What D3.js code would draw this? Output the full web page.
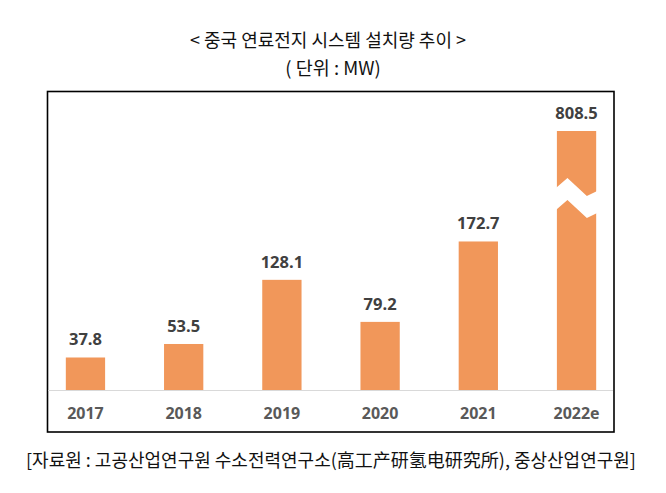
<!DOCTYPE html>
<html>
<head>
<meta charset="utf-8">
<script src="https://cdn.jsdelivr.net/npm/d3@7"></script>
<style>
  body { margin: 0; background: #fff; }
</style>
</head>
<body>
<div id="chart"></div>
<script>
// chart data
const years = ["2017", "2018", "2019", "2020", "2021", "2022e"];
const values = [37.8, 53.5, 128.1, 79.2, 172.7, 808.5];
const brokenYears = ["2022e"];
const breakValue = 222; // where the axis break sits

const width = 666;
const height = 493;

const svg = d3.select("#chart")
  .append("svg")
  .attr("width", width)
  .attr("height", height);

// Titles
svg.append("text")
  .attr("x", 328)
  .attr("y", 47)
  .attr("text-anchor", "middle")
  .style("font-family", "'Noto Sans CJK KR', sans-serif")
  .style("font-size", "18px")
  .attr("fill", "#111")
  .text("< 중국 연료전지 시스템 설치량 추이 >");

svg.append("text")
  .attr("x", 333)
  .attr("y", 75)
  .attr("text-anchor", "middle")
  .style("font-family", "'Noto Sans CJK KR', sans-serif")
  .style("font-size", "18.5px")
  .attr("fill", "#111")
  .text("( 단위 : MW)");

// Frame
svg.append("rect")
  .attr("x", 47.5)
  .attr("y", 91.5)
  .attr("width", 566.5)
  .attr("height", 340.5)
  .attr("fill", "none")
  .attr("stroke", "#000")
  .attr("stroke-width", 1.6);

// Scales
const x = d3.scaleBand()
  .domain(years)
  .range([56, 606])
  .paddingInner(0.6)
  .paddingOuter(0.1);

// piecewise scale: linear up to the break, compressed above it
const y = d3.scaleLinear()
  .domain([0, breakValue, 808.5])
  .range([390, 390 - breakValue * 0.86, 131]);

const g = svg.append("g");

// Bars
g.selectAll(".bar")
  .data(values)
  .enter()
  .append("rect")
  .attr("class", "bar")
  .attr("x", (d, i) => x(years[i]))
  .attr("y", (d) => y(d))
  .attr("width", x.bandwidth())
  .attr("height", (d) => y(0) - y(d))
  .attr("fill", "#F1975A");

// Zigzag break on the tall bar
brokenYears.forEach((yr) => {
  const x0 = x(yr) - 1;
  const x1 = x(yr) + x.bandwidth() + 1;
  const bw = x1 - x0;
  const yc = y(breakValue) - 11;
  const top = [
    [x0, yc - 0], [x0 + bw * 0.28, yc - 10], [x0 + bw * 0.75, yc + 8], [x1, yc + 3]
  ];
  const bottom = top.map(([px, py]) => [px, py + 22]).reverse();
  g.append("path")
    .attr("d", d3.line()(top.concat(bottom)) + "Z")
    .attr("fill", "#fff");
});

// Baseline
g.append("line")
  .attr("x1", 48)
  .attr("x2", 613)
  .attr("y1", y(0) + 0.5)
  .attr("y2", y(0) + 0.5)
  .attr("stroke", "#d9d9d9")
  .attr("stroke-width", 1.2);

// Value labels
g.selectAll(".value")
  .data(values)
  .enter()
  .append("text")
  .attr("x", (d, i) => x(years[i]) + x.bandwidth() / 2)
  .attr("y", (d) => y(d) - 12)
  .attr("text-anchor", "middle")
  .style("font-family", "'Open Sans', sans-serif")
  .style("font-weight", "bold")
  .style("font-size", "16.5px")
  .attr("fill", "#404040")
  .text((d) => d.toFixed(1));

// Category axis
const xAxis = g.append("g")
  .attr("transform", `translate(0, ${y(0)})`)
  .call(d3.axisBottom(x).tickSize(0).tickPadding(18));
xAxis.select(".domain").remove();
xAxis.selectAll("text")
  .style("font-family", "'Open Sans', sans-serif")
  .style("font-weight", "bold")
  .style("font-size", "16px")
  .attr("fill", "#595959");

// Source
svg.append("text")
  .attr("x", 331)
  .attr("y", 467)
  .attr("text-anchor", "middle")
  .style("font-family", "'Noto Sans CJK KR', sans-serif")
  .style("font-size", "18px")
  .attr("fill", "#111")
  .text("[자료원 : 고공산업연구원 수소전력연구소(高工产研氢电研究所), 중상산업연구원]");
</script>
</body>
</html>
